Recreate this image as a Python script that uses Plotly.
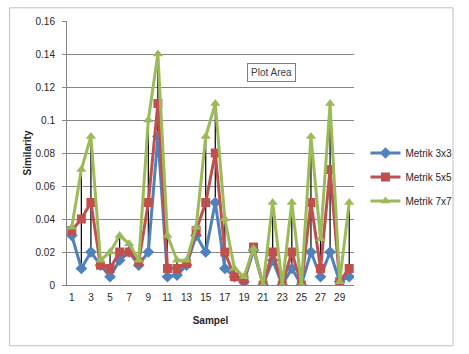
import plotly.graph_objects as go

samples = list(range(1, 31))
metrik_3x3 = [0.030, 0.010, 0.020, 0.012, 0.005, 0.015, 0.020, 0.012, 0.020, 0.090,
              0.005, 0.006, 0.012, 0.030, 0.020, 0.050, 0.010, 0.005, 0.002, 0.021,
              0.000, 0.015, 0.000, 0.010, 0.000, 0.020, 0.005, 0.020, 0.002, 0.005]
metrik_5x5 = [0.033, 0.040, 0.050, 0.012, 0.010, 0.020, 0.020, 0.014, 0.050, 0.110,
              0.010, 0.010, 0.013, 0.033, 0.050, 0.080, 0.020, 0.005, 0.003, 0.023,
              0.000, 0.020, 0.000, 0.020, 0.000, 0.050, 0.010, 0.070, 0.002, 0.010]
metrik_7x7 = [0.035, 0.070, 0.090, 0.015, 0.020, 0.030, 0.025, 0.015, 0.100, 0.140,
              0.030, 0.015, 0.015, 0.035, 0.090, 0.110, 0.040, 0.010, 0.005, 0.022,
              0.000, 0.050, 0.000, 0.050, 0.000, 0.090, 0.028, 0.110, 0.002, 0.050]
series_names = ["Metrik 3x3", "Metrik 5x5", "Metrik 7x7"]
y_ticks = [0, 0.02, 0.04, 0.06, 0.08, 0.1, 0.12, 0.14, 0.16]
y_tick_text = ["0", "0.02", "0.04", "0.06", "0.08", "0.1", "0.12", "0.14", "0.16"]
x_ticks = list(range(1, 30, 2))

font = "Liberation Sans"
fig = go.Figure()

# high-low lines
hx, hy = [], []
for s, a, b, c in zip(samples, metrik_3x3, metrik_5x5, metrik_7x7):
    hx += [s, s, None]
    hy += [min(a, b, c), max(a, b, c), None]
fig.add_trace(go.Scatter(x=hx, y=hy, mode="lines", line=dict(color="black", width=1.2),
                         showlegend=False, hoverinfo="skip"))

styles = [("#4F81BD", "diamond", 9), ("#C0504D", "square", 9), ("#9BBB59", "triangle-up", 9)]
for i, (name, vals, (col, sym, sz)) in enumerate(zip(series_names, [metrik_3x3, metrik_5x5, metrik_7x7], styles)):
    fig.add_trace(go.Scatter(x=samples, y=vals, mode="lines+markers", name=name,
                             legendgroup=f"g{i}",
                             line=dict(color=col, width=3),
                             marker=dict(symbol=sym, size=sz, color=col)))

fig.update_layout(
    width=469, height=354,
    margin=dict(l=67, r=108, t=21, b=69),
    paper_bgcolor="white", plot_bgcolor="white",
    font=dict(family=font, size=10, color="#262626"),
    legend=dict(x=1.04, y=0.555, xanchor="left", yanchor="top",
                font=dict(size=10, color="#262626"), tracegroupgap=5,
                bgcolor="rgba(0,0,0,0)"),
    xaxis=dict(range=[0.5, 30.5], tickvals=x_ticks, ticktext=[str(v) for v in x_ticks],
               showgrid=False, showline=True, linecolor="#868686", linewidth=1,
               ticks="", zeroline=False, tickfont=dict(size=10), ticklabelstandoff=3,
               title=dict(text="<b>Sampel</b>", font=dict(size=10), standoff=14)),
    yaxis=dict(range=[0, 0.16], tickvals=y_ticks, ticktext=y_tick_text,
               showgrid=True, gridcolor="#868686", gridwidth=1,
               showline=True, linecolor="#868686", linewidth=1, zeroline=False,
               ticks="outside", ticklen=4, tickcolor="#868686", tickfont=dict(size=10),
               ticklabelstandoff=5,
               title=dict(text="<b>Similarity</b>", font=dict(size=10), standoff=2)),
    shapes=[dict(type="rect", xref="paper", yref="paper", x0=-0.2, x1=1.345, y0=-0.23, y1=1.05,
                 line=dict(color="#BFBFBF", width=1))],
    annotations=[dict(text="Plot Area", xref="x", yref="paper", x=21.9, y=0.84,
                      showarrow=False, font=dict(size=10, color="#404040"),
                      bgcolor="white", bordercolor="#7F7F7F", borderwidth=1, borderpad=3)],
)
fig.write_html("out.html")
